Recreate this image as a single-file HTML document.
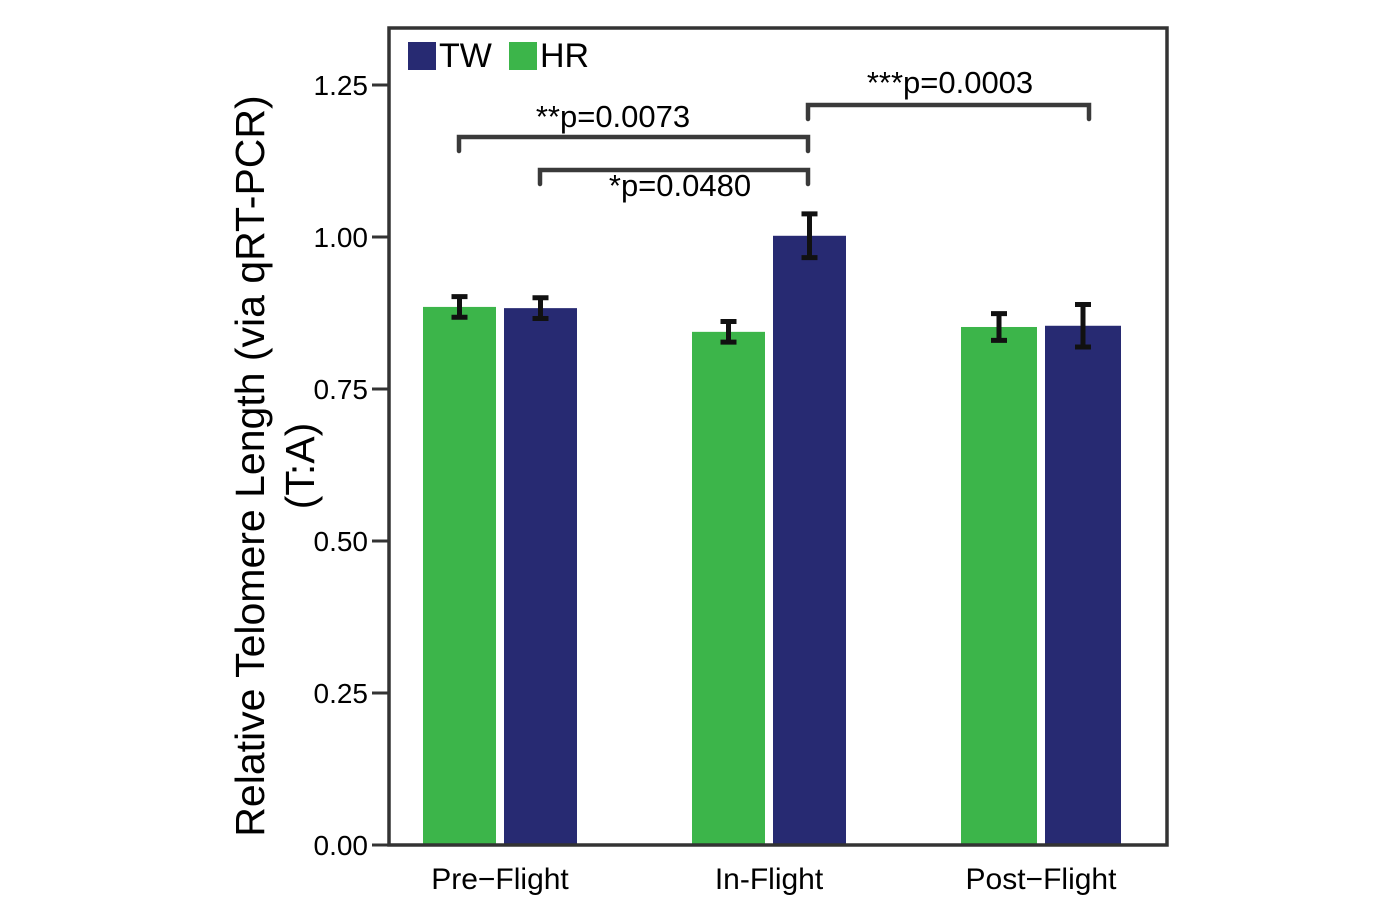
<!DOCTYPE html>
<html><head><meta charset="utf-8"><style>
body{margin:0;background:#fff;}
svg{display:block;font-family:"Liberation Sans",Arial,sans-serif;}
</style></head><body>
<svg id="chart" width="1400" height="901" viewBox="0 0 1400 901">
<g id="marks"></g>
<rect x="389" y="28" width="778" height="817" fill="none" stroke="#333" stroke-width="3.5"/>
<g>
<rect x="408" y="42" width="28" height="28" fill="#272a72"/>
<text x="439" y="67" font-size="34">TW</text>
<rect x="509" y="42" width="28" height="28" fill="#3cb54a"/>
<text x="540" y="67" font-size="34">HR</text>
</g>
<g transform="translate(264,466) rotate(-90)">
<text x="0" y="0" font-size="41" text-anchor="middle">Relative Telomere Length (via qRT-PCR)</text>
<text x="0" y="50" font-size="41" text-anchor="middle">(T:A)</text>
</g>
</svg>
<script>
const categories = ["Pre\u2212Flight","In-Flight","Post\u2212Flight"];
const hrValues = [0.885, 0.844, 0.852];
const twValues = [0.883, 1.002, 0.854];
const hrErrors = [0.017, 0.017, 0.022];
const twErrors = [0.017, 0.036, 0.035];
const yTicks = [0, 0.25, 0.5, 0.75, 1.0, 1.25];
const yTickLabels = ["0.00","0.25","0.50","0.75","1.00","1.25"];
const sigLabels = ["**p=0.0073","*p=0.0480","***p=0.0003"];

const NS="http://www.w3.org/2000/svg";
const g=document.getElementById('marks');
const y=v=>845-v*608;
const groupX=i=>[423,692,961][i];
const barW=i=>[73,73,76][i];
function mk(tag,attrs){const e=document.createElementNS(NS,tag);for(const k in attrs)e.setAttribute(k,attrs[k]);g.appendChild(e);return e;}
yTicks.forEach((t,i)=>{
  const l=mk('line',{x1:372,x2:389,y1:y(t),y2:y(t),stroke:'#333','stroke-width':3});
  
  
  const tx=mk('text',{x:368,y:y(t)+10,'font-size':28,'text-anchor':'end'});
  tx.textContent=yTickLabels[i];
  
  
});
function bar(x,w,v,err,color,name){
  const r=mk('rect',{x:x,y:y(v),width:w,height:845-y(v),fill:color});
  
  
  const cx=x+w/2;
  const e=mk('path',{d:`M${cx},${y(v+err)}V${y(v-err)}M${cx-8},${y(v+err)}H${cx+8}M${cx-8},${y(v-err)}H${cx+8}`,stroke:'#111','stroke-width':5,fill:'none'});
  
  
}
categories.forEach((c,i)=>{
  const gx=groupX(i), w=barW(i);
  bar(gx,w,hrValues[i],hrErrors[i],'#3cb54a','bar-hr-'+i);
  bar(gx+w+8,w,twValues[i],twErrors[i],'#272a72','bar-tw-'+i);
  const t=mk('text',{x:gx+w+4,y:889,'font-size':30,'text-anchor':'middle'});
  t.textContent=c;
  
  
});
const brk=[[459,808,137,613,127],[540,808,170,680,196],[808,1089,105,950,93]];
brk.forEach((b,i)=>{
  const p=mk('path',{d:`M${b[0]},${b[2]+14}V${b[2]}H${b[1]}V${b[2]+14}`,stroke:'#3a3a3a','stroke-width':4.5,fill:'none','stroke-linecap':'round'});
  
  
  const t=mk('text',{x:b[3],y:b[4],'font-size':31,'text-anchor':'middle'});
  t.textContent=sigLabels[i];
  
  
});
</script>
</body></html>
